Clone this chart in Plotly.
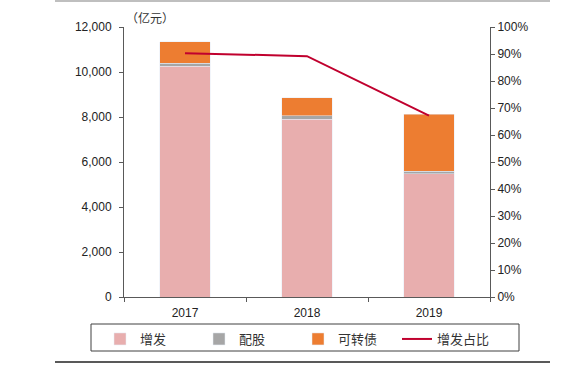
import plotly.graph_objects as go

years = ["2017", "2018", "2019"]
zengfa = [10250, 7900, 5470]
peigu = [150, 160, 130]
kezhuanzhai = [950, 800, 2530]
zengfa_share = [0.903, 0.892, 0.672]

W, H = 568, 365
L, R, T, B = 124, 78, 27, 68
pw, ph = W - L - R, H - T - B

def px_x(x):
    return (x - L) / pw

def px_y(y):
    return (H - B - y) / ph

tick_font = dict(family="Liberation Sans, Arial, sans-serif", size=12, color="#222222")
cjk = "Noto Sans CJK SC, sans-serif"

fig = go.Figure()
fig.add_trace(go.Bar(x=years, y=zengfa, name="增发", marker_color="#E8AEAE", width=0.41))
fig.add_trace(go.Bar(x=years, y=peigu, name="配股", marker_color="#A6A6A6", width=0.41))
fig.add_trace(go.Bar(x=years, y=kezhuanzhai, name="可转债", marker_color="#ED7D31", width=0.41))
fig.add_trace(go.Scatter(x=years, y=zengfa_share, name="增发占比", mode="lines",
                         line=dict(color="#C0002E", width=2), yaxis="y2"))

axis_color = "#595959"
fig.update_layout(
    width=W, height=H,
    margin=dict(l=L, r=R, t=T, b=B, autoexpand=False),
    paper_bgcolor="white", plot_bgcolor="white",
    barmode="stack",
    showlegend=True,
    legend=dict(orientation="h", x=px_x(100), xanchor="left", y=px_y(324), yanchor="top",
                bgcolor="rgba(0,0,0,0)", borderwidth=0,
                font=dict(family=cjk, size=13, color="#333333"),
                entrywidth=54, entrywidthmode="pixels",
                traceorder="normal", itemwidth=30),
    xaxis=dict(type="category", showline=True, linecolor=axis_color, linewidth=1,
               ticks="outside", tickson="boundaries", ticklen=4, tickcolor=axis_color,
               tickfont=tick_font, showgrid=False, zeroline=False, automargin=False,
               ticklabelstandoff=5),
    yaxis=dict(range=[0, 12000], dtick=2000, tickformat=",", showline=True,
               linecolor=axis_color, linewidth=1, ticks="outside", ticklen=4,
               tickcolor=axis_color, tickfont=tick_font, showgrid=False, zeroline=False,
               automargin=False, ticklabelstandoff=5),
    yaxis2=dict(range=[0, 1], dtick=0.1, tickformat=".0%", overlaying="y", side="right",
                showline=True, linecolor=axis_color, linewidth=1, ticks="outside",
                ticklen=4, tickcolor=axis_color, tickfont=tick_font, showgrid=False,
                zeroline=False, automargin=False),
    annotations=[dict(text="（亿元）", xref="paper", yref="paper", x=px_x(124), y=px_y(17),
                      xanchor="left", yanchor="middle", showarrow=False,
                      font=dict(family=cjk, size=12, color="#333333"))],
    shapes=[
        dict(type="line", xref="paper", yref="paper", x0=px_x(55), x1=px_x(550),
             y0=px_y(1), y1=px_y(1), line=dict(color="#BFBFBF", width=2)),
        dict(type="line", xref="paper", yref="paper", x0=px_x(55), x1=px_x(550),
             y0=px_y(362), y1=px_y(362), line=dict(color="#595959", width=2)),
        dict(type="rect", xref="paper", yref="paper", x0=px_x(91), x1=px_x(519),
             y0=px_y(324), y1=px_y(351), line=dict(color="#404040", width=1)),
    ],
)

fig.write_html("out.html", config={"displayModeBar": False},
               post_script="document.body.style.margin='0';document.body.style.overflow='hidden';")
